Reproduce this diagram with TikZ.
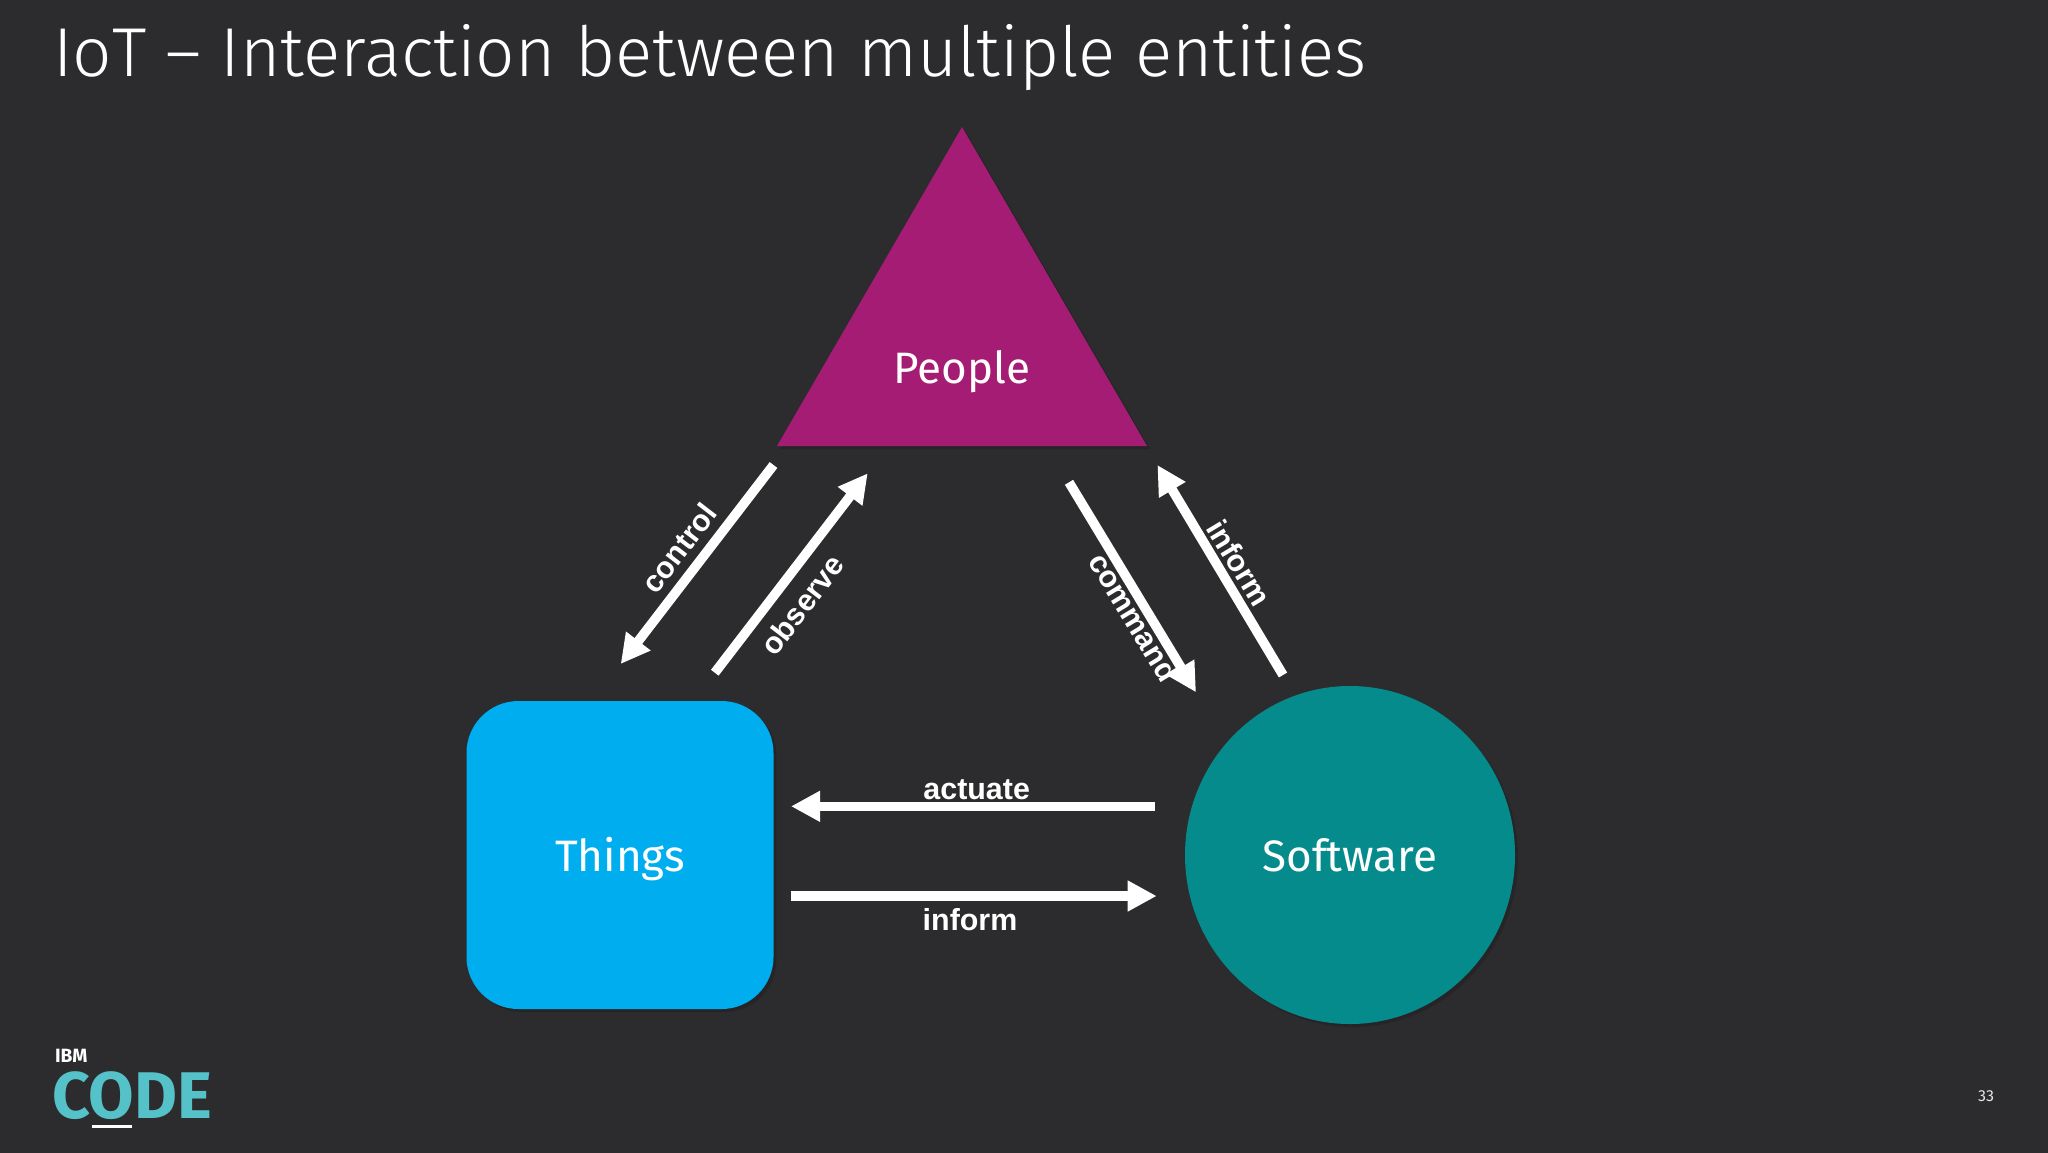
\documentclass[tikz,border=0pt]{standalone}
\usepackage{fontspec}
\setmainfont{Fira Sans Light}
\newfontfamily\labelfont{Liberation Sans}
\newfontfamily\logofont{Fira Sans}
\usetikzlibrary{arrows.meta,shapes.geometric,shadows}
\definecolor{bgc}{HTML}{2C2C2E}
\definecolor{peoplec}{HTML}{A51C75}
\definecolor{thingsc}{HTML}{00AEEF}
\definecolor{softc}{HTML}{058B8C}
\definecolor{logoc}{HTML}{55C1C8}
\tikzset{
  softshadow/.style={drop shadow={shadow xshift=1.5pt,shadow yshift=-1.5pt,fill=black,opacity=.14}},
  flow/.style={draw=white,line width=4.8pt,-{Triangle[length=14.5pt,width=14.5pt]}},
  flowlabel/.style={text=white,inner sep=0pt,font=\labelfont\bfseries\fontsize{15.2}{18}\selectfont},
  shapetext/.style={text=white,text height=16pt,text depth=0pt,font=\logofont\fontsize{22}{26}\selectfont},
  free/.style={inner sep=0pt,outer sep=0pt}
}
\begin{document}
\begin{tikzpicture}[x=0.5pt,y=-0.5pt]
\useasboundingbox (0,0) rectangle (2048,1152);
\fill[bgc] (-6,-6) rectangle (2054,1158);
% title
\node[free,anchor=base west,text=white,font=\fontsize{34.6}{42}\selectfont] (title) at (53,76) {IoT – Interaction between multiple entities};
% people triangle
\coordinate (pa) at (962,127);
\coordinate (pl) at (777,446);
\coordinate (pr) at (1147,446);
\fill[peoplec,softshadow] (pa) -- (pr) -- (pl) -- cycle;
\node[free,shapetext] (people) at (962,367) {People};
% things
\node[free,shapetext,fill=thingsc,rounded corners=26pt,minimum width=153.5pt,minimum height=154pt,softshadow] (things) at (620,855) {Things};
% software
\node[free,shapetext,ellipse,fill=softc,minimum width=165pt,minimum height=169pt,softshadow] (software) at (1350,855) {Software};
% connector ends
\coordinate (c1) at (773.5,465);  \coordinate (c2) at (620.7,664);
\coordinate (o1) at (714.8,672.7);\coordinate (o2) at (867.7,473.3);
\coordinate (m1) at (1069,482.3); \coordinate (m2) at (1196,692.3);
\coordinate (i1) at (1283,675);   \coordinate (i2) at (1157.4,465);
\coordinate (a1) at (1155,806.3); \coordinate (a2) at (791,806.3);
\coordinate (f1) at (790.7,896);  \coordinate (f2) at (1156.7,896);
\draw[flow] (c1) -- (c2);
\draw[flow] (o1) -- (o2);
\draw[flow] (m1) -- (m2);
\draw[flow] (i1) -- (i2);
\draw[flow] (a1) -- (a2);
\draw[flow] (f1) -- (f2);
% labels
\node[flowlabel,rotate=52.4] (lcontrol) at (679,548) {control};
\node[flowlabel,rotate=52.5] (lobserve) at (802,605) {observe};
\node[flowlabel,rotate=-58.8] (lcommand) at (1134,617) {command};
\node[flowlabel,rotate=-59] (linform) at (1239,563) {inform};
\node[flowlabel,anchor=base] (lactuate) at (976.7,799) {actuate};
\node[flowlabel,anchor=base] (lbinform) at (970,930.7) {inform};
% logo
\node[free,anchor=base west,text=white,font=\logofont\bfseries\fontsize{9.6}{11}\selectfont] (ibm) at (55,1062.7) {IBM};
\node[free,anchor=base west,text=logoc,font=\logofont\bfseries\fontsize{33}{40}\selectfont] (code) at (52,1118) {CODE};
\fill[white] (92,1125) rectangle (132,1128);
% page number
\node[free,text=white!90!black,font=\logofont\fontsize{8}{10}\selectfont] (page) at (1986,1096) {33};
\end{tikzpicture}
\end{document}
